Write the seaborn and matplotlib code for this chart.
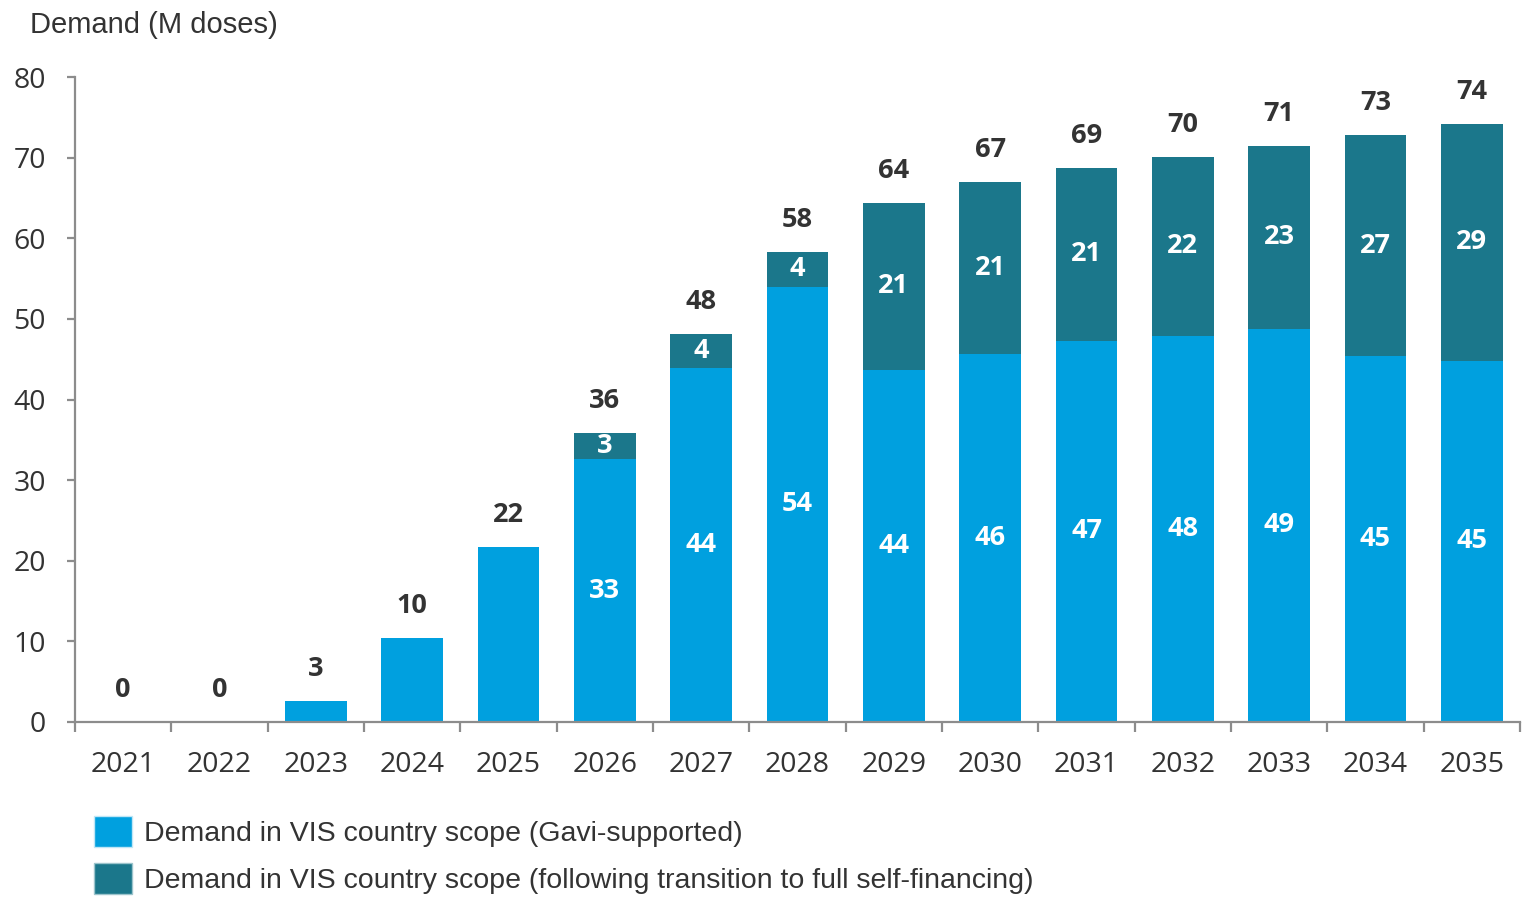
import matplotlib
matplotlib.use("Agg")
import matplotlib.pyplot as plt
from matplotlib.patches import Patch
from matplotlib.ticker import FixedLocator, MultipleLocator
import seaborn as sns
import pandas as pd
import numpy as np

# Demand forecast, million doses
years = [str(y) for y in range(2021, 2036)]
gavi_supported = [0, 0, 2.6, 10.4, 21.7, 32.6, 43.9, 54.0, 43.7, 45.7, 47.3, 47.9, 48.8, 45.4, 44.8]
self_financing = [0, 0, 0, 0, 0, 3.2, 4.2, 4.3, 20.7, 21.3, 21.4, 22.2, 22.6, 27.4, 29.4]
legend_labels = [
    "Demand in VIS country scope (Gavi-supported)",
    "Demand in VIS country scope (following transition to full self-financing)",
]

BLUE = "#00A0DF"
TEAL = "#1B778B"
AXIS_GREY = "#8C8C8C"
TEXT = "#333333"

df = pd.DataFrame({"year": years, "gavi": gavi_supported, "self": self_financing})
df["total"] = df["gavi"] + df["self"]

sns.set_theme(style="white")
plt.rcParams["font.family"] = ["Open Sans", "DejaVu Sans"]

fig = plt.figure(figsize=(15.24, 9.0), dpi=100)
ax = fig.add_axes([75 / 1524, 1 - 722 / 900, (1520 - 75) / 1524, (722 - 77) / 900])

bar_w = 0.64
# Totals drawn in teal, the Gavi-supported part over them in blue
sns.barplot(data=df, x="year", y="total", color=TEAL, saturation=1, width=bar_w,
            linewidth=0, ax=ax)
sns.barplot(data=df, x="year", y="gavi", color=BLUE, saturation=1, width=bar_w,
            linewidth=0, ax=ax)

ax.set_xlim(-0.5, len(years) - 0.5)
ax.set_ylim(0, 80)
ax.set_xlabel("")
ax.set_ylabel("")

# Axes styling
for side in ["top", "right"]:
    ax.spines[side].set_visible(False)
for side in ["left", "bottom"]:
    ax.spines[side].set_color(AXIS_GREY)
    ax.spines[side].set_linewidth(1.6)

ax.yaxis.set_major_locator(MultipleLocator(10))
ax.tick_params(axis="y", which="major", direction="out", length=6, width=1.6,
               color=AXIS_GREY, left=True, pad=15, labelsize=20.5, labelcolor=TEXT)
ax.tick_params(axis="x", which="major", length=0, pad=21, labelsize=20.5, labelcolor=TEXT)
ax.xaxis.set_minor_locator(FixedLocator(np.arange(-0.5, len(years), 1.0)))
ax.tick_params(axis="x", which="minor", direction="out", length=7, width=1.6,
               color=AXIS_GREY, bottom=True)

# Value labels
for i, row in df.iterrows():
    ax.annotate(f"{row['total']:.0f}", xy=(i, row["total"]), xytext=(0, 23),
                textcoords="offset points", ha="center", va="center",
                fontsize=19.5, fontweight="bold", color=TEXT)
    if row["self"] > 0:
        ax.text(i, row["gavi"] / 2, f"{row['gavi']:.0f}", ha="center", va="center",
                fontsize=19.5, fontweight="bold", color="white")
        ax.text(i, row["gavi"] + row["self"] / 2, f"{row['self']:.0f}", ha="center",
                va="center", fontsize=19.5, fontweight="bold", color="white")

fig.text(30 / 1524, 1 - 25 / 900, "Demand (M doses)", ha="left", va="center",
         fontsize=21, color=TEXT, family=["Liberation Sans", "DejaVu Sans"])

handles = [Patch(facecolor=BLUE, edgecolor="#BFE6F6", linewidth=1.0),
           Patch(facecolor=TEAL, edgecolor="#9CC4CC", linewidth=1.0)]
leg = fig.legend(handles, legend_labels, loc="upper left",
                 bbox_to_anchor=(94 / 1524, 1 - 816 / 900), frameon=False,
                 borderpad=0, borderaxespad=0, handlelength=1.35, handleheight=1.3,
                 handletextpad=0.42, labelspacing=0.55,
                 prop={"family": ["Liberation Sans", "DejaVu Sans"], "size": 20.5})
for t in leg.get_texts():
    t.set_color(TEXT)

fig.savefig("out.png", dpi=100)
